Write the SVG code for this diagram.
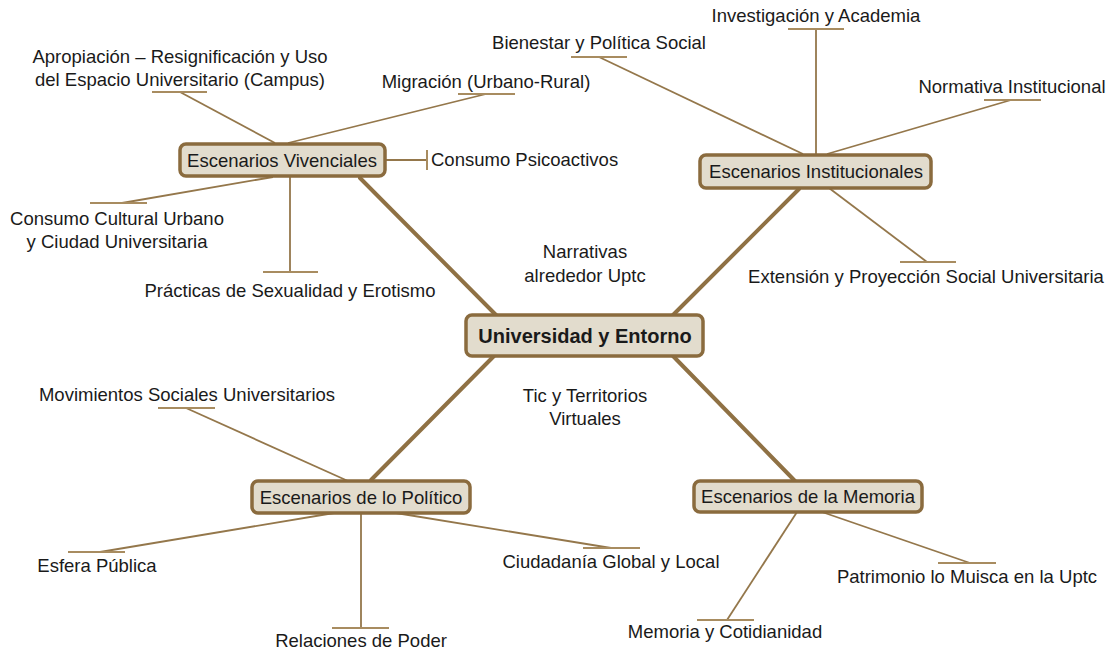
<svg xmlns="http://www.w3.org/2000/svg" width="1110" height="650" viewBox="0 0 1110 650">
<style>
  text { font-family: "Liberation Sans", Arial, sans-serif; font-size: 18.5px; fill: #1a1a1a; }
  .c { text-anchor: middle; }
  .box { fill: #e2dccd; stroke: #8a6b3e; stroke-width: 3.5; }
  .main { font-weight: bold; font-size: 20px; }
  .thin { stroke: #94774b; stroke-width: 1.8; fill: none; }
  .bar { stroke: #a88c60; stroke-width: 2; fill: none; }
  .thick { stroke: #8f7144; stroke-width: 4; fill: none; stroke-linecap: round; }
</style>
<rect width="1110" height="650" fill="#ffffff"/>
<g id="connectors">
  <line class="thick" x1="497" y1="316" x2="360" y2="178"/>
  <line class="thick" x1="672" y1="316" x2="799" y2="189"/>
  <line class="thick" x1="494" y1="356" x2="371" y2="480"/>
  <line class="thick" x1="673" y1="356" x2="795" y2="481"/>
  <line class="thin" x1="275" y1="143" x2="180" y2="92"/>
  <line class="bar" x1="152" y1="92" x2="207" y2="92"/>
  <line class="thin" x1="288" y1="143" x2="486" y2="94"/>
  <line class="bar" x1="458" y1="94" x2="515" y2="94"/>
  <line class="thin" x1="385" y1="160" x2="427" y2="160"/>
  <line class="bar" x1="427" y1="150" x2="427" y2="170"/>
  <line class="thin" x1="273" y1="177" x2="122" y2="203"/>
  <line class="bar" x1="90" y1="203" x2="147" y2="203"/>
  <line class="thin" x1="290" y1="177" x2="290" y2="272"/>
  <line class="bar" x1="263" y1="272" x2="318" y2="272"/>
  <line class="thin" x1="816" y1="154" x2="816" y2="29"/>
  <line class="bar" x1="788" y1="29" x2="844" y2="29"/>
  <line class="thin" x1="803" y1="154" x2="599" y2="57"/>
  <line class="bar" x1="571" y1="57" x2="627" y2="57"/>
  <line class="thin" x1="827" y1="154" x2="1011" y2="100"/>
  <line class="bar" x1="984" y1="100" x2="1041" y2="100"/>
  <line class="thin" x1="829" y1="188" x2="927" y2="262"/>
  <line class="bar" x1="900" y1="262" x2="956" y2="262"/>
  <line class="thin" x1="348" y1="481" x2="186" y2="408"/>
  <line class="bar" x1="158" y1="408" x2="215" y2="408"/>
  <line class="thin" x1="334" y1="513" x2="100" y2="552"/>
  <line class="bar" x1="68" y1="552" x2="125" y2="552"/>
  <line class="thin" x1="361" y1="513" x2="361" y2="628"/>
  <line class="bar" x1="332" y1="628" x2="389" y2="628"/>
  <line class="thin" x1="396" y1="513" x2="611" y2="548"/>
  <line class="bar" x1="583" y1="548" x2="640" y2="548"/>
  <line class="thin" x1="822" y1="512" x2="970" y2="563"/>
  <line class="bar" x1="938" y1="563" x2="996" y2="563"/>
  <line class="thin" x1="797" y1="512" x2="727" y2="620"/>
  <line class="bar" x1="697" y1="620" x2="754" y2="620"/>
</g>
<g id="central">
  <rect class="box" x="466" y="315" width="237" height="41" rx="6"/>
  <text class="c main" x="585" y="343">Universidad y Entorno</text>
</g>
<g id="vivenciales">
  <rect class="box" x="180" y="144" width="205" height="32" rx="6"/>
  <text class="c" x="282" y="167">Escenarios Vivenciales</text>
</g>
<g id="institucionales">
  <rect class="box" x="700" y="155" width="231" height="33" rx="6"/>
  <text class="c" x="816" y="178">Escenarios Institucionales</text>
</g>
<g id="politico">
  <rect class="box" x="252" y="481" width="218" height="32" rx="6"/>
  <text class="c" x="361" y="504">Escenarios de lo Político</text>
</g>
<g id="memoria">
  <rect class="box" x="694" y="481" width="228" height="31" rx="6"/>
  <text class="c" x="808" y="503">Escenarios de la Memoria</text>
</g>
<g id="apropiacion"><text class="c" x="180" y="63">Apropiación – Resignificación y Uso</text><text class="c" x="180" y="86">del Espacio Universitario (Campus)</text></g>
<g id="migracion"><text class="c" x="486" y="88">Migración (Urbano-Rural)</text></g>
<g id="psicoactivos"><text x="431" y="166">Consumo Psicoactivos</text></g>
<g id="cultural"><text class="c" x="117" y="225">Consumo Cultural Urbano</text><text class="c" x="117" y="248">y Ciudad Universitaria</text></g>
<g id="sexualidad"><text class="c" x="290" y="297">Prácticas de Sexualidad y Erotismo</text></g>
<g id="investigacion"><text class="c" x="816" y="22">Investigación y Academia</text></g>
<g id="bienestar"><text class="c" x="599" y="49">Bienestar y Política Social</text></g>
<g id="normativa"><text class="c" x="1012" y="93">Normativa Institucional</text></g>
<g id="extension"><text class="c" x="926" y="283">Extensión y Proyección Social Universitaria</text></g>
<g id="narrativas"><text class="c" x="585" y="258">Narrativas</text><text class="c" x="585" y="282">alrededor Uptc</text></g>
<g id="tic"><text class="c" x="585" y="402">Tic y Territorios</text><text class="c" x="585" y="425">Virtuales</text></g>
<g id="movimientos"><text class="c" x="187" y="401">Movimientos Sociales Universitarios</text></g>
<g id="esfera"><text class="c" x="97" y="572">Esfera Pública</text></g>
<g id="relaciones"><text class="c" x="361" y="647">Relaciones de Poder</text></g>
<g id="ciudadania"><text class="c" x="611" y="568">Ciudadanía Global y Local</text></g>
<g id="patrimonio"><text class="c" x="967" y="583">Patrimonio lo Muisca en la Uptc</text></g>
<g id="cotidianidad"><text class="c" x="725" y="638">Memoria y Cotidianidad</text></g>
</svg>
